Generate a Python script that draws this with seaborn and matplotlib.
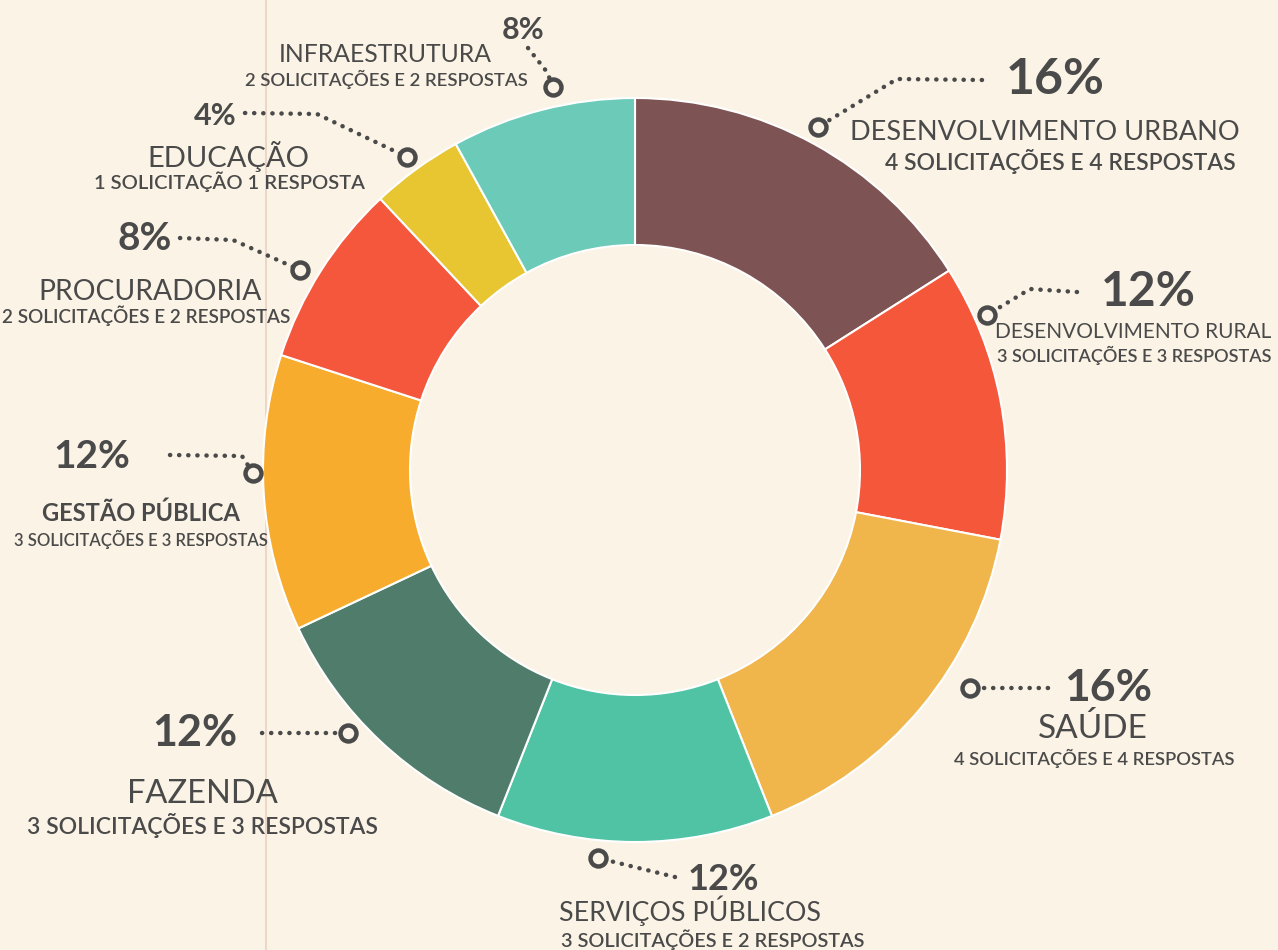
import numpy as np
import seaborn as sns
import matplotlib.pyplot as plt

sns.set_theme(style="white")
plt.rcParams['font.family'] = ['Lato', 'DejaVu Sans']

# dados (sentido horário a partir do topo)
categorias = ['DESENVOLVIMENTO URBANO', 'DESENVOLVIMENTO RURAL', 'SAÚDE',
              'SERVIÇOS PÚBLICOS', 'FAZENDA', 'GESTÃO PÚBLICA',
              'PROCURADORIA', 'EDUCAÇÃO', 'INFRAESTRUTURA']
percentuais = [16, 12, 16, 12, 12, 12, 8, 4, 8]
detalhes = ['4 SOLICITAÇÕES E 4 RESPOSTAS', '3 SOLICITAÇÕES E 3 RESPOSTAS',
            '4 SOLICITAÇÕES E 4 RESPOSTAS', '3 SOLICITAÇÕES E 2 RESPOSTAS',
            '3 SOLICITAÇÕES E 3 RESPOSTAS', '3 SOLICITAÇÕES E 3 RESPOSTAS',
            '2 SOLICITAÇÕES E 2 RESPOSTAS', '1 SOLICITAÇÃO 1 RESPOSTA',
            '2 SOLICITAÇÕES E 2 RESPOSTAS']
cores = ['#7e5353', '#f5573b', '#f0b54b', '#4fc3a4', '#4f7c6b',
         '#f8ac2d', '#f4573b', '#e7c632', '#6ccab9']

BG = '#fbf3e5'
TXT = '#4a4a4a'
W, H = 1278, 950

# layout dos rótulos (coordenadas em pixels da imagem)
# pct (x, y, tamanho), titulo (x, y, tamanho, peso), detalhe (x, y, tamanho), caminho do conector
layout = [
    dict(pct=(1055, 80, 36), tit=(1045, 133, 19.5, 'normal'), sub=(1060, 162, 16.5),
         path=[(982, 80), (897, 79), (818, 127)]),
    dict(pct=(1148, 292, 34.5), tit=(1133, 332, 15, 'normal'), sub=(1134, 355, 13),
         path=[(1077, 292), (1030, 289), (987, 315)]),
    dict(pct=(1108, 688, 32), tit=(1093, 728, 24, 'normal'), sub=(1094, 758, 13.2),
         path=[(1048, 688), (970, 688)]),
    dict(pct=(723, 880, 26), tit=(690, 911, 19.3, 'normal'), sub=(713, 940, 14.3),
         path=[(675, 877), (598, 858)]),
    dict(pct=(195, 733, 31), tit=(202, 794, 23.5, 'normal'), sub=(202, 825, 16.5),
         path=[(262, 733), (348, 733)]),
    dict(pct=(92, 457, 28), tit=(141, 513, 17, 'bold'), sub=(141, 539, 12),
         path=[(170, 455), (242, 456), (253, 473)]),
    dict(pct=(145, 238, 28), tit=(150, 292, 20.3, 'normal'), sub=(146, 316, 13.6),
         path=[(180, 238), (233, 240), (300, 270)]),
    dict(pct=(215, 116, 22), tit=(228, 157, 21, 'normal'), sub=(229, 182, 14.5),
         path=[(245, 113), (317, 114), (407, 157)]),
    dict(pct=(523, 30, 22), tit=(385, 55, 17.8, 'normal'), sub=(386, 79, 13.3),
         path=[(528, 48), (547, 72), (553, 87)]),
]

fig = plt.figure(figsize=(W / 100, H / 100), dpi=100, facecolor=BG)
ax = fig.add_axes([0, 0, 1, 1])
ax.set_facecolor(BG)

# linha vertical clara do papel
ax.axvline(266, color='#ead2c2', lw=1.2, zorder=0)

ax.pie(percentuais, colors=cores, startangle=-90, counterclock=True,
       center=(635, 470), radius=372,
       wedgeprops=dict(width=147, edgecolor='white', linewidth=1.5))

for cat, pct, det, lay in zip(categorias, percentuais, detalhes, layout):
    px, py, ps = lay['pct']
    ax.text(px, py, f'{pct}%', ha='center', va='center', fontsize=ps,
            color=TXT, fontweight='bold')
    tx, ty, ts, tw = lay['tit']
    ax.text(tx, ty, cat, ha='center', va='center', fontsize=ts, color=TXT,
            fontweight=tw)
    sx, sy, ss = lay['sub']
    ax.text(sx, sy, det, ha='center', va='center', fontsize=ss, color=TXT,
            fontweight='semibold')
    xs = [p[0] for p in lay['path']]
    ys = [p[1] for p in lay['path']]
    ax.plot(xs, ys, color=TXT, lw=3.2, linestyle=(0, (0.05, 2.0)),
            dash_capstyle='round', zorder=3)
    ax.plot(xs[-1], ys[-1], 'o', ms=11.5, mfc=BG, mec=TXT, mew=3.2, zorder=4)

ax.set_xlim(0, W)
ax.set_ylim(H, 0)
ax.set_aspect('equal')
ax.axis('off')

fig.savefig('out.png', dpi=100, facecolor=BG)
